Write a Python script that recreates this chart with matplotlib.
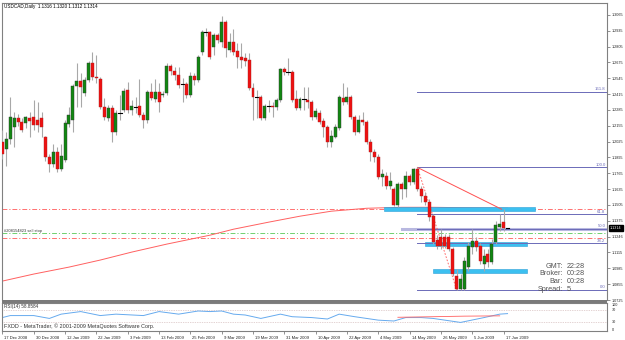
import matplotlib
matplotlib.use("Agg")
import matplotlib.pyplot as plt
from matplotlib.patches import Rectangle
import matplotlib.transforms as mtransforms

# ---------------- data ----------------
opens = [1.2026,1.1961,1.2043,1.2149,1.2223,1.2190,1.2182,1.2223,1.2231,1.2206,
         1.2223,1.2059,1.1895,1.1838,1.1944,1.1797,1.1871,1.2173,1.2206,1.2484,
         1.2525,1.2427,1.2533,1.2672,1.2558,1.2541,1.2312,1.2223,1.2304,1.2108,
         1.2263,1.2288,1.2452,1.2288,1.2312,1.2321,1.2247,1.2206,1.2435,1.2378,
         1.2435,1.2411,1.2427,1.2648,1.2607,1.2574,1.2501,1.2501,1.2411,1.2566,
         1.2533,1.2762,1.2926,1.2926,1.2803,1.2901,1.2844,1.3008,1.2779,1.2844,
         1.2771,1.2721,1.2713,1.2697,1.2468,1.2394,1.2394,1.2223,1.2321,1.2321,
         1.2312,1.2370,1.2623,1.2599,1.2599,1.2378,1.2304,1.2378,1.2370,1.2353,
         1.2231,1.2263,1.2198,1.2149,1.2026,1.2067,1.2141,1.2386,1.2353,1.2394,
         1.2231,1.2108,1.2206,1.2190,1.2026,1.1936,1.1895,1.1732,1.1740,1.1658,
         1.1634,1.1503,1.1674,1.1634,1.1740,1.1691,1.1797,1.1634,1.1576,1.1527,
         1.1413,1.1216,1.1241,1.1241,1.1241,1.1143,1.0922,1.0816,1.0816,1.0995,
         1.1159,1.1208,1.1167,1.1020,1.1102,1.1036,1.1200,1.1323,1.1364,1.1316]
highs = [1.2124,1.2100,1.2394,1.2272,1.2255,1.2223,1.2239,1.2272,1.2370,1.2353,
         1.2272,1.2075,1.1920,1.2002,1.1985,1.2002,1.2206,1.2312,1.2501,1.2672,
         1.2591,1.2558,1.2689,1.2762,1.2738,1.2558,1.2386,1.2329,1.2329,1.2288,
         1.2411,1.2468,1.2517,1.2370,1.2394,1.2541,1.2272,1.2452,1.2509,1.2541,
         1.2509,1.2443,1.2672,1.2664,1.2640,1.2640,1.2550,1.2517,1.2599,1.2591,
         1.2738,1.2942,1.2959,1.2934,1.2918,1.2918,1.3057,1.3024,1.2918,1.2950,
         1.2836,1.2836,1.2754,1.2754,1.2509,1.2452,1.2411,1.2337,1.2370,1.2353,
         1.2386,1.2631,1.2640,1.2713,1.2615,1.2452,1.2394,1.2476,1.2476,1.2370,
         1.2304,1.2288,1.2223,1.2165,1.2124,1.2173,1.2411,1.2509,1.2476,1.2411,
         1.2247,1.2247,1.2272,1.2206,1.2043,1.1961,1.1920,1.1797,1.1773,1.1773,
         1.1650,1.1691,1.1691,1.1781,1.1756,1.1805,1.1815,1.1658,1.1609,1.1552,
         1.1429,1.1257,1.1306,1.1265,1.1265,1.1159,1.0979,1.0938,1.1077,1.1200,
         1.1306,1.1241,1.1192,1.1143,1.1143,1.1225,1.1372,1.1429,1.1470,1.1320]
lows = [1.1879,1.1822,1.2002,1.1985,1.2157,1.2100,1.2141,1.2067,1.2124,1.2100,
        1.2059,1.1863,1.1773,1.1813,1.1773,1.1781,1.1854,1.2149,1.2108,1.2312,
        1.2312,1.2402,1.2517,1.2533,1.2509,1.2296,1.2206,1.2198,1.2026,1.2083,
        1.2206,1.2272,1.2263,1.2247,1.2263,1.2231,1.2141,1.2182,1.2370,1.2353,
        1.2272,1.2394,1.2411,1.2574,1.2533,1.2468,1.2353,1.2386,1.2394,1.2492,
        1.2517,1.2738,1.2893,1.2705,1.2738,1.2836,1.2803,1.2721,1.2762,1.2738,
        1.2631,1.2631,1.2648,1.2452,1.2206,1.2223,1.2206,1.2206,1.2272,1.2231,
        1.2288,1.2353,1.2574,1.2574,1.2353,1.2288,1.2288,1.2288,1.2304,1.2206,
        1.2214,1.2173,1.2067,1.1985,1.1985,1.2051,1.2124,1.2329,1.2337,1.2214,
        1.2083,1.2092,1.2165,1.2002,1.1863,1.1854,1.1715,1.1658,1.1634,1.1634,
        1.1494,1.1486,1.1552,1.1568,1.1666,1.1674,1.1617,1.1527,1.1503,1.1372,
        1.1184,1.1143,1.1143,1.1151,1.1126,1.0922,1.0808,1.0810,1.0810,1.0963,
        1.1102,1.1126,1.1020,1.0963,1.0995,1.1020,1.1184,1.1290,1.1290,1.1312]
closes = [1.1920,1.2043,1.2231,1.2223,1.2190,1.2124,1.2231,1.2198,1.2165,1.2165,
          1.2149,1.1895,1.1838,1.1944,1.1797,1.1903,1.2182,1.2247,1.2484,1.2525,
          1.2476,1.2533,1.2672,1.2558,1.2550,1.2312,1.2231,1.2304,1.2108,1.2263,
          1.2260,1.2443,1.2288,1.2321,1.2310,1.2247,1.2206,1.2435,1.2386,1.2435,
          1.2353,1.2419,1.2648,1.2607,1.2574,1.2492,1.2499,1.2411,1.2566,1.2533,
          1.2721,1.2926,1.2928,1.2721,1.2901,1.2861,1.3008,1.2795,1.2844,1.2762,
          1.2721,1.2697,1.2689,1.2468,1.2394,1.2392,1.2223,1.2321,1.2319,1.2312,
          1.2370,1.2623,1.2599,1.2597,1.2370,1.2304,1.2378,1.2376,1.2353,1.2231,
          1.2280,1.2190,1.2149,1.2026,1.2075,1.2149,1.2394,1.2353,1.2394,1.2231,
          1.2100,1.2206,1.2190,1.2026,1.1936,1.1895,1.1732,1.1756,1.1658,1.1699,
          1.1503,1.1674,1.1634,1.1740,1.1691,1.1797,1.1634,1.1576,1.1527,1.1404,
          1.1200,1.1167,1.1167,1.1167,1.1143,1.0938,1.0816,1.0897,1.1045,1.1167,
          1.1208,1.1159,1.1045,1.1085,1.1036,1.1184,1.1339,1.1347,1.1316,1.1314]

date_labels = ["17 Dec 2008", "30 Dec 2008", "12 Jan 2009", "22 Jan 2009", "3 Feb 2009",
               "13 Feb 2009", "25 Feb 2009", "9 Mar 2009", "19 Mar 2009", "31 Mar 2009",
               "10 Apr 2009", "22 Apr 2009", "4 May 2009", "14 May 2009", "26 May 2009",
               "5 Jun 2009", "17 Jun 2009"]
date_label_bars = [0, 8, 16, 24, 32, 40, 48, 56, 64, 72, 80, 88, 96, 104, 112, 120, 128]

price_ticks = [1.3065, 1.2935, 1.2805, 1.2675, 1.2545, 1.2415, 1.2285, 1.2155, 1.2025,
               1.1895, 1.1765, 1.1635, 1.1505, 1.1375, 1.1246, 1.1115, 1.0985, 1.0855, 1.0725]

# moving average (sampled)
ma_bars = [-1, 8, 17, 25, 33, 42, 53, 59, 68, 76, 84, 93, 102, 110, 119, 129]
ma_vals = [1.0873, 1.0938, 1.0995, 1.1053, 1.1118, 1.1184, 1.1257, 1.1306, 1.1364,
           1.1413, 1.1454, 1.1478, 1.1486, 1.1486, 1.1482, 1.1478]

# RSI (sampled)
rsi_bars = [0, 2, 8, 12, 15, 20, 25, 29, 36, 40, 45, 50, 53, 56, 59, 62, 66, 71, 74,
            79, 83, 86, 90, 96, 100, 103, 107, 110, 117, 123, 127, 129]
rsi_vals = [45, 52, 52, 42, 57, 66, 52, 57, 52, 66, 57, 68, 66, 68, 57, 54, 42, 57, 48,
            45, 40, 57, 48, 36, 33, 45, 45, 42, 28, 45, 57, 58.86]
rsi_ma_bars = [101, 110, 118, 127]
rsi_ma_vals = [46, 48, 50, 51]

fib_high, fib_high_bar = 1.1813, 106
fib_low, fib_low_bar = 1.0808, 116
fib_levels = [0.0, 38.2, 50.0, 61.8, 100.0, 161.8]

hlines_prices = [1.1470, 1.1274, 1.1233]
hlines_colors = ["#ff7070", "#70d070", "#ff7070"]

zone_x0 = [97.5, 108.0, 110.0]
zone_x1 = [136.0, 134.0, 134.0]
zone_lo = [1.1456, 1.1172, 1.0944]
zone_hi = [1.1488, 1.1204, 1.0978]

trend_bars = [106, 127.5]
trend_vals = [1.1813, 1.1470]

title_text = "USDCAD,Daily  1.1316 1.1320 1.1312 1.1314"
order_text = "#208154823 sell stop"
info_keys = ["GMT:", "Broker:", "Bar:", "Spread:"]
info_vals = ["22:28", "00:28", "00:28", "5"]
current_price = 1.1314

# ---------------- figure ----------------
W, H = 625, 340
fig = plt.figure(figsize=(W / 100, H / 100), dpi=100)
fig.patch.set_facecolor("white")
FONT = "Liberation Sans"
plt.rcParams["font.family"] = [FONT, "DejaVu Sans"]


def box(l, t, r, b):
    return [l / W, 1 - b / H, (r - l) / W, (b - t) / H]


ax = fig.add_axes(box(2, 3, 607, 300))
rx = fig.add_axes(box(2, 303, 607, 331))
fig.patches.append(Rectangle((2 / W, 1 - 303 / H), 605 / W, 3 / H, transform=fig.transFigure,
                             facecolor="#7a7a7a", edgecolor="none"))

frame = "#808080"
for a in (ax, rx):
    a.set_facecolor("white")
    for s in a.spines.values():
        s.set_color(frame)
        s.set_linewidth(0.8)
ax.spines["bottom"].set_visible(False)

n = len(opens)
XMAX = 154.4
ax.set_xlim(-0.1, XMAX)
rx.set_xlim(-0.1, XMAX)
ax.set_ylim(1.0728, 1.3163)

# horizontal order lines
for p, c in zip(hlines_prices, hlines_colors):
    ax.axhline(p, color=c, lw=0.7, ls=(0, (5, 2, 1.2, 2)), zorder=1)

# moving average
ax.plot(ma_bars, ma_vals, color="#ff6060", lw=0.7, zorder=2)

# zones
for x0, x1, lo, hi in zip(zone_x0, zone_x1, zone_lo, zone_hi):
    ax.add_patch(Rectangle((x0, lo), x1 - x0, hi - lo, facecolor="#3cc0f0",
                           edgecolor="#2a9fd8", lw=0.4, zorder=2))

# fibonacci
fib_col = "#6b6bb8"
rng = fib_high - fib_low
for lv in fib_levels:
    p = fib_low + rng * lv / 100.0
    if lv == 50.0:
        ax.plot([fib_high_bar - 4, XMAX], [p, p], color="#b8b8e0", lw=2.2, zorder=2)
    ax.plot([fib_high_bar, XMAX], [p, p], color=fib_col, lw=0.7, zorder=3)
    ax.text(XMAX - 0.4, p + 0.0004, f"{lv:.1f}", color=fib_col, fontsize=3.1,
            ha="right", va="bottom", zorder=5)
ax.plot([fib_high_bar, fib_low_bar], [fib_high, fib_low], color="#ff5050", lw=0.6,
        ls=(0, (2, 2)), zorder=3)

# trend line
ax.plot(trend_bars, trend_vals, color="#ff5050", lw=0.7, zorder=3)

# candles
wick_col = "#a8a8a8"
for i in range(n):
    o, h, l, c = opens[i], highs[i], lows[i], closes[i]
    ax.plot([i, i], [l, h], color=wick_col, lw=0.8, zorder=4, solid_capstyle="butt")
    if abs(c - o) < 0.0004:
        ax.plot([i - 0.45, i + 0.45], [c, c], color="black", lw=0.8, zorder=5)
    else:
        col = "#118811" if c > o else "#ee1111"
        ax.add_patch(Rectangle((i - 0.38, min(o, c)), 0.76, abs(c - o), facecolor=col,
                               edgecolor="#333333" if c > o else "#aa2222", lw=0.3, zorder=5))

# texts
ax.text(0.004, 0.995, title_text, transform=ax.transAxes, fontsize=3.3, color="black",
        ha="left", va="top")
ax.text(0.3, 1.1274 + 0.0005, order_text, fontsize=2.9, color="#333333", ha="left",
        va="bottom")
for k, (key, val) in enumerate(zip(info_keys, info_vals)):
    yy = 266 + k * 7.7
    fig.text(563 / W, 1 - yy / H, key, fontsize=5.2, color="#555555", ha="right", va="center")
    fig.text(567 / W, 1 - yy / H, val, fontsize=5.2, color="#555555", ha="left", va="center")

# price axis
ax.yaxis.tick_right()
ax.set_yticks(price_ticks)
ax.set_yticklabels([f"{t:.4f}" for t in price_ticks])
ax.tick_params(axis="y", labelsize=2.7, length=2, width=0.6, color=frame, pad=1.0,
               labelcolor="#222222")
ax.set_xticks([])
# current price box
ax.text(1.005, current_price, f"{current_price:.4f}",
        transform=mtransforms.blended_transform_factory(ax.transAxes, ax.transData),
        fontsize=2.7, color="white", ha="left", va="center",
        bbox=dict(boxstyle="square,pad=0.3", facecolor="black", edgecolor="black"))

# RSI
rx.set_ylim(-2, 96)
for lv in (70, 30):
    rx.axhline(lv, color="#c8a8a8", lw=0.5, ls=(0, (1, 1.5)))
rx.plot(rsi_bars, rsi_vals, color="#66aaee", lw=0.7)
rx.plot(rsi_ma_bars, rsi_ma_vals, color="#ff6060", lw=0.6)
rx.set_yticks([])
rt = mtransforms.blended_transform_factory(rx.transAxes, rx.transData)
for v, s in zip([89, 70, 30, 0], ["100", "70", "30", "0"]):
    rx.text(1.008, v, s, transform=rt, fontsize=2.7, color="#222222", ha="left", va="center")
rx.text(0.004, 0.97, "RSI(14) 58.8584", transform=rx.transAxes, fontsize=3.3, ha="left",
        va="top", color="#333333")
rx.text(0.004, 0.06, "FXDD - MetaTrader, \u00a9 2001-2009 MetaQuotes Software Corp.",
        transform=rx.transAxes, fontsize=3.9, ha="left", va="bottom", color="#333333")

rx.set_xticks(date_label_bars)
rx.set_xticklabels([""] * len(date_label_bars))
rx.tick_params(axis="x", length=2, width=0.6, color=frame)
for b, s in zip(date_label_bars, date_labels):
    rx.text(b + 0.5, -0.25, s, transform=mtransforms.blended_transform_factory(rx.transData, rx.transAxes),
            fontsize=3.0, color="#222222", ha="left", va="center")

fig.savefig("out.png", dpi=100, facecolor="white")
